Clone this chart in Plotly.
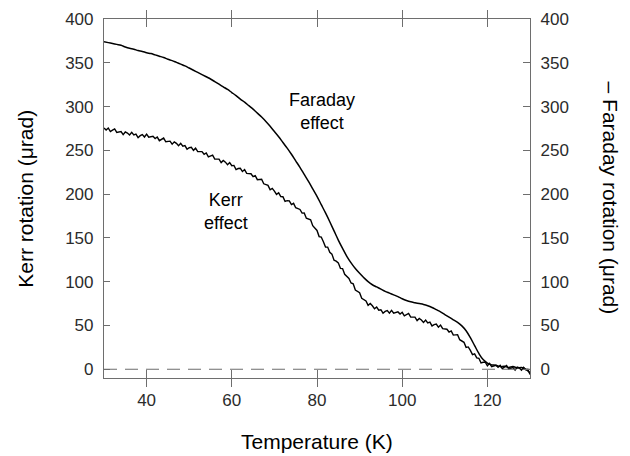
import plotly.graph_objects as go

# Faraday curve, 1 K steps from 30 K to 130 K
temps = list(range(30, 131))
faraday = [374, 373, 372, 371, 370, 368, 366.5, 365.5, 364, 363,
           361.5, 360.5, 359, 357.5, 356, 354, 352.5, 350.5, 348.5, 346.5,
           344, 341.5, 339, 336.5, 334, 331.5, 328.5, 325.5, 322.5, 319.5,
           316, 312.5, 308.5, 305, 301, 297, 292.5, 288, 283, 277.5,
           271.5, 265.5, 259, 252.5, 245.5, 238, 230.5, 222.5, 214.5, 206,
           197.5, 188, 178.5, 168.5, 158, 147.5, 138, 129, 121.5, 115,
           109.5, 104.5, 100, 96.5, 94, 91.5, 89, 87, 85, 83,
           80.5, 78.5, 77, 76, 75, 74, 72.5, 70.5, 68, 65.5,
           62.5, 59.5, 56.5, 53.5, 49.5, 44, 36, 27, 18, 11,
           7, 5, 4.5, 3, 3.5, 2, 3, 1.5, 2, 0, -4]

# Kerr curve (noisy), 0.5 K steps from 30 K to 130 K
kerr_temps = [30 + 0.5 * i for i in range(201)]
kerr = [275.5, 273.2, 275.5, 271.5, 273, 274.5, 270.5, 271, 271.5, 268,
        271, 269.7, 267.5, 270.5, 267.5, 268.5, 264.5, 266.8, 268, 265.2,
        268.5, 265, 265.5, 266, 263.5, 265.2, 261, 262.5, 264, 259.8,
        260, 260.5, 257, 259.7, 258, 255.3, 258, 254.7, 255.5, 251.3,
        253, 253.5, 250, 252.5, 248.5, 248.5, 248.5, 245.5, 247, 242.5,
        243.5, 244.5, 240, 240, 240, 236, 238.5, 236.5, 233.5, 236,
        232.5, 232.8, 228, 229.2, 229.5, 225.8, 228, 223.7, 223.5, 223.3,
        220, 221.2, 216.5, 216.7, 217, 211.8, 211, 210, 205, 206.5,
        203.5, 199.7, 201.5, 197.3, 197, 191.7, 192.5, 192.3, 188, 189.5,
        184.5, 183.5, 182.5, 178.3, 178.5, 172.5, 172, 170.7, 164, 161.2,
        158.5, 151.5, 151, 145.7, 139.5, 139.5, 133.5, 131.5, 124.5, 123.5,
        121.5, 115.2, 115, 108.5, 106, 103.7, 98.5, 97.5, 90.5, 89,
        87.5, 81, 79, 78, 73, 75, 72.5, 69, 71, 67.5,
        68, 64, 66, 67, 64, 67.3, 64, 64.7, 65.5, 63,
        65, 61, 62.5, 63.7, 59.5, 59.5, 59.5, 55.5, 58, 56.3,
        53.5, 56.2, 53, 53.8, 49.5, 51, 51.5, 48, 50.5, 46.3,
        46, 45.7, 42.5, 43.8, 39, 39.3, 39.5, 33.8, 32.5, 30.8,
        25, 25.5, 21.5, 16.7, 17.5, 13, 12.5, 7.3, 8, 8,
        4, 6.7, 3, 3.7, 4.5, 2.3, 4.5, 0.7, 2.5, 4.3,
        0.5, 1.2, 2, -1, 2.5, 1.5, -1, 2.2, -0.5, 0,
        -6]

x_ticks = [40, 60, 80, 100, 120]
y_ticks = [0, 50, 100, 150, 200, 250, 300, 350, 400]

axis_col = '#6e6e6e'
font_col = '#2b2b2b'
fam = 'Liberation Sans, Arial, sans-serif'

fig = go.Figure()
fig.add_trace(go.Scatter(x=temps, y=faraday, mode='lines', line_shape='spline',
                         line=dict(color='black', width=1.5), showlegend=False))
fig.add_trace(go.Scatter(x=kerr_temps, y=kerr, mode='lines',
                         line=dict(color='black', width=1.4), showlegend=False))
# invisible trace so the right axis gets drawn
fig.add_trace(go.Scatter(x=[30], y=[0], yaxis='y2', mode='markers',
                         marker=dict(opacity=0), showlegend=False, hoverinfo='skip'))

# zero line
fig.add_shape(type='line', xref='paper', x0=0, x1=1, yref='y', y0=0, y1=0,
              line=dict(color=axis_col, width=1.2, dash='13px,8px'))

axis_common = dict(showgrid=False, zeroline=False, showline=True, linecolor=axis_col,
                   linewidth=1.2, ticks='inside', tickcolor=axis_col, tickwidth=1.2,
                   automargin=False,
                   tickfont=dict(size=17, color=font_col, family=fam))

fig.update_layout(
    width=630, height=456,
    margin=dict(l=104, r=100, t=19, b=78),
    paper_bgcolor='white', plot_bgcolor='white',
    font=dict(family=fam, color=font_col),
    xaxis=dict(range=[30, 130], tickvals=x_ticks, ticklen=8, mirror='allticks',
               ticklabelstandoff=6, **axis_common),
    yaxis=dict(range=[-10, 400], tickvals=y_ticks, ticklen=6, mirror=True,
               ticklabelstandoff=6, **axis_common),
    yaxis2=dict(range=[-10, 400], tickvals=y_ticks, ticklen=7, overlaying='y',
                side='right', ticklabelstandoff=6, **axis_common),
)

fig.add_annotation(text='Temperature (K)', xref='paper', yref='paper', x=0.5, y=-0.178,
                   showarrow=False, font=dict(size=21, color='black'), yanchor='middle')
fig.add_annotation(text='Kerr rotation (\u03bcrad)', xref='paper', yref='paper',
                   x=-0.185, y=0.5, textangle=-90, showarrow=False,
                   font=dict(size=21, color='black'), xanchor='center')
fig.add_annotation(text='\u2013 Faraday rotation (\u03bcrad)', xref='paper', yref='paper',
                   x=1.19, y=0.5, textangle=90, showarrow=False,
                   font=dict(size=21, color='black'), xanchor='center')

fig.add_annotation(text='Faraday<br>effect', x=81.2, y=294, showarrow=False,
                   font=dict(size=18, color='black'))
fig.add_annotation(text='Kerr<br>effect', x=58.6, y=180, showarrow=False,
                   font=dict(size=18, color='black'))

# page body has a default 8px margin, drop it so the figure sits at 0,0
fig.write_html("out.html", config={'displayModeBar': False},
               post_script="document.body.style.margin='0px';")
